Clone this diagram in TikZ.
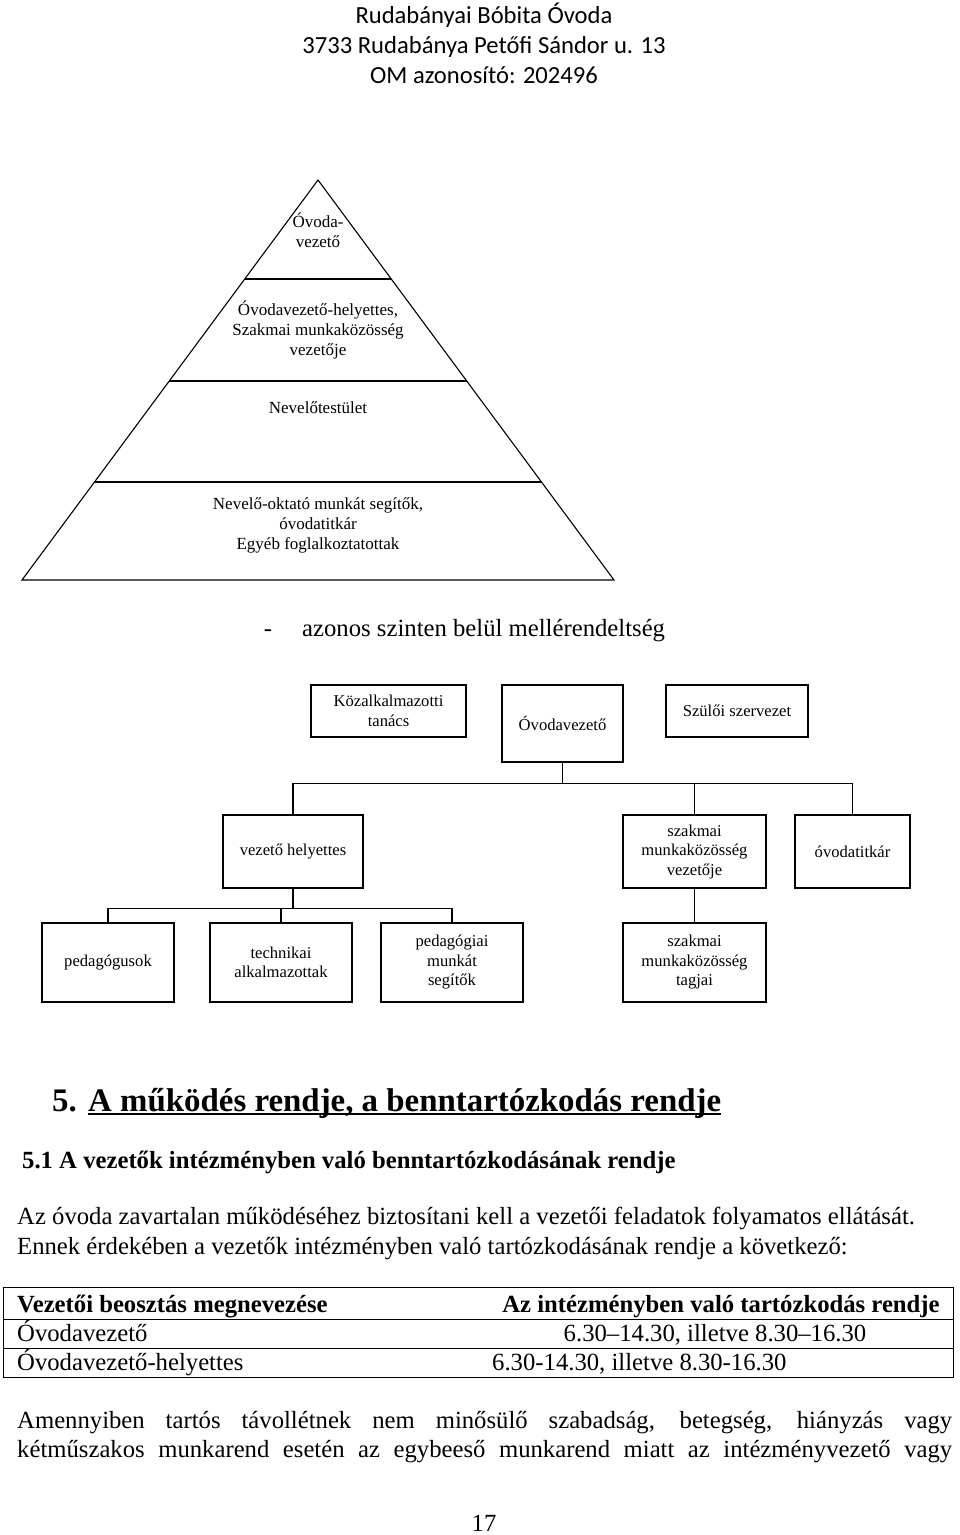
\documentclass[tikz,border=0pt]{standalone}
\usepackage{fontspec}
\setmainfont{Liberation Serif}
\newfontfamily\headfont{Carlito}
\usetikzlibrary{calc}

\tikzset{
  orgbox/.style={draw, line width=1.3pt, align=center, inner sep=0pt,
    font=\fontsize{16.6}{19.5}\selectfont},
  orgline/.style={line width=1.3pt},
  pyrtext/.style={align=center, font=\fontsize{17}{20}\selectfont},
  bodytext/.style={anchor=base west, inner sep=0pt, font=\fontsize{24.7}{30}\selectfont},
  boldtext/.style={bodytext, font=\bfseries\fontsize{24.7}{30}\selectfont},
  headtext/.style={anchor=base, inner sep=0pt, font=\headfont\fontsize{24.6}{30}\selectfont},
}

\begin{document}
\begin{tikzpicture}[x=1pt, y=-1pt]
    \useasboundingbox (0,0) rectangle (960,1535);

    % 1. Header
    \node[headtext] (school) at (484,23) {Rudabányai Bóbita Óvoda};
    \node[headtext] (address) at (484,53) {3733 Rudabánya Petőfi Sándor u. 13};
    \node[headtext] (omid) at (484,83) {OM azonosító: 202496};

    % 2. The pyramid
    \coordinate (apex) at (318,180); % top
    \coordinate (pbl) at (22,580);   % base left
    \coordinate (pbr) at (614,580);  % base right
    \draw[line width=1.1pt] (apex) -- (pbr) -- (pbl) -- cycle;
    \foreach \f in {0.2475, 0.5025, 0.755}
        \draw[line width=1.3pt] ($(apex)!\f!(pbl)$) -- ($(apex)!\f!(pbr)$);

    \node[pyrtext] (pyrA) at (318,230) {Óvoda-\\vezető};
    \node[pyrtext] (pyrB) at (318,330) {Óvodavezető-helyettes,\\Szakmai munkaközösség\\vezetője};
    \node[pyrtext] (pyrC) at (318,408) {Nevelőtestület};
    \node[pyrtext] (pyrD) at (318,525) {Nevelő-oktató munkát segítők,\\óvodatitkár\\Egyéb foglalkoztatottak};

    % 3. Legend line
    \node[bodytext, anchor=base] (dash) at (268,636) {-};
    \node[bodytext] (legend) at (302,636) {azonos szinten belül mellérendeltség};

    % 4. Organisation chart
    \node[orgbox, minimum width=155pt, minimum height=52pt] (kozalk) at (388.5,711) {Közalkalmazotti\\tanács};
    \node[orgbox, minimum width=121pt, minimum height=77pt] (ovez) at (562.5,723.5) {Óvodavezető};
    \node[orgbox, minimum width=142pt, minimum height=52pt] (szulo) at (737,711) {Szülői szervezet};

    \node[orgbox, minimum width=140pt, minimum height=73pt] (vhely) at (293,851.5) {vezető helyettes};
    \node[orgbox, minimum width=143pt, minimum height=73pt] (szmv) at (694.5,851.5) {szakmai\\munkaközösség\\vezetője};
    \node[orgbox, minimum width=115pt, minimum height=73pt] (titkar) at (852.5,851.5) {óvodatitkár};

    \node[orgbox, minimum width=132pt, minimum height=79pt] (pedag) at (108,962.5) {pedagógusok};
    \node[orgbox, minimum width=142pt, minimum height=79pt] (techn) at (281,962.5) {technikai\\alkalmazottak};
    \node[orgbox, minimum width=142pt, minimum height=79pt] (pedsegit) at (452,962.5) {pedagógiai\\munkát\\segítők};
    \node[orgbox, minimum width=143pt, minimum height=79pt] (szmt) at (694.5,962.5) {szakmai\\munkaközösség\\tagjai};

    % connectors
    \coordinate (busT) at ($(ovez.south)+(0,21)$);
    \draw[orgline] (ovez.south) -- (busT);
    \draw[orgline] (vhely.north) |- (busT) -| (titkar.north);
    \draw[orgline] (szmv.north) -- (szmv.north |- busT);

    \coordinate (busV) at ($(vhely.south)+(0,20)$);
    \draw[orgline] (vhely.south) -- (busV);
    \draw[orgline] (pedag.north) |- (busV) -| (pedsegit.north);
    \draw[orgline] (techn.north) -- (techn.north |- busV);
    \draw[orgline] (szmv.south) -- (szmt.north);

    % 5. Section text
    \node[bodytext, font=\bfseries\fontsize{32.9}{38}\selectfont] (secnum) at (52,1111) {5.};
    \node[bodytext, font=\bfseries\fontsize{32.9}{38}\selectfont] (sectitle) at (88,1111) {A működés rendje, a benntartózkodás rendje};
    \draw[line width=1.6pt] ([yshift=-3pt]sectitle.base west) -- ([yshift=-3pt]sectitle.base east);

    \node[boldtext] (subsec) at (22,1168) {5.1 A vezetők intézményben való benntartózkodásának rendje};

    \node[bodytext] (parA) at (17,1224) {Az óvoda zavartalan működéséhez biztosítani kell a vezetői feladatok folyamatos ellátását.};
    \node[bodytext] (parB) at (17,1254) {Ennek érdekében a vezetők intézményben való tartózkodásának rendje a következő:};

    % 6. Table
    \draw[line width=1pt] (3,1287) rectangle (953,1377);
    \draw[line width=1pt] (3,1319) -- (953,1319);
    \draw[line width=1pt] (3,1348) -- (953,1348);
    \node[boldtext] (colA) at (17,1312) {Vezetői beosztás megnevezése};
    \node[boldtext, anchor=base] (colB) at (721,1312) {Az intézményben való tartózkodás rendje};
    \node[bodytext] (rowA) at (17,1341) {Óvodavezető};
    \node[bodytext, anchor=base] (rowAt) at (715,1341) {6.30–14.30, illetve 8.30–16.30};
    \node[bodytext] (rowB) at (17,1370) {Óvodavezető-helyettes};
    \node[bodytext] (rowBt) at (492,1370) {6.30-14.30, illetve 8.30-16.30};

    % 7. Closing paragraph
    \node[bodytext] (parC) at (17,1428) {\makebox[935pt][s]{Amennyiben tartós távollétnek nem minősülő szabadság, betegség, hiányzás vagy}};
    \node[bodytext] (parD) at (17,1457) {\makebox[935pt][s]{kétműszakos munkarend esetén az egybeeső munkarend miatt az intézményvezető vagy}};

    \node[bodytext, anchor=base] (pagenum) at (484,1531) {17};
\end{tikzpicture}
\end{document}
